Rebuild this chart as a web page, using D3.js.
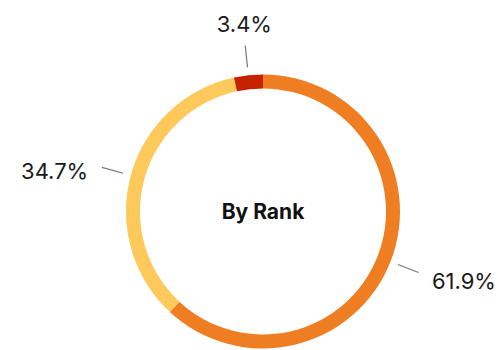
<!DOCTYPE html>
<html>
<head>
<meta charset="utf-8">
<script src="https://cdn.jsdelivr.net/npm/d3@7"></script>
<style>
  html, body { margin: 0; padding: 0; background: #fff; }
  svg { display: block; }
</style>
</head>
<body>
<svg id="chart" width="500" height="350"></svg>
<script>
// Share of items by rank
const categories = ["Rank A", "Rank B", "Rank C"];
const shares = [61.9, 34.7, 3.4];
const colors = ["#EF7D22", "#FEC95B", "#C42200"];
const centerTitle = "By Rank";

const width = 500, height = 350;
const cx = 263, cy = 211.5;
const outerR = 137, innerR = 123;
const lineStart = 145, lineEnd = 167, labelR = 175;

const svg = d3.select("#chart");
const g = svg.append("g").attr("transform", `translate(${cx},${cy})`);

const data = categories.map((c, i) => ({ category: c, value: shares[i], color: colors[i] }));

const pie = d3.pie().value(d => d.value).sort((a, b) => b.value - a.value);
const arcs = pie(data);

const arc = d3.arc().innerRadius(innerR).outerRadius(outerR);

g.selectAll("path.slice")
  .data(arcs)
  .join("path")
  .attr("class", "slice")
  .attr("d", arc)
  .attr("fill", d => d.data.color);

const mid = d => (d.startAngle + d.endAngle) / 2;
const pt = (a, r) => [Math.sin(a) * r, -Math.cos(a) * r];
const isTop = d => Math.abs(Math.sin(mid(d))) < 0.3;

g.selectAll("line.leader")
  .data(arcs)
  .join("line")
  .attr("class", "leader")
  .attr("x1", d => pt(mid(d), lineStart)[0])
  .attr("y1", d => pt(mid(d), lineStart)[1])
  .attr("x2", d => pt(mid(d), lineEnd)[0])
  .attr("y2", d => pt(mid(d), lineEnd)[1])
  .attr("stroke", "#777")
  .attr("stroke-width", 1.2);

const fmt = v => d3.format(".1f")(v) + "%";

g.selectAll("text.value")
  .data(arcs)
  .join("text")
  .attr("class", "value")
  .attr("x", d => pt(mid(d), labelR)[0])
  .attr("y", d => pt(mid(d), labelR)[1])
  .attr("dx", d => isTop(d) ? 0 : (Math.sin(mid(d)) > 0 ? 6 : -6))
  .attr("dy", d => isTop(d) ? "-0.25em" : "0.62em")
  .attr("text-anchor", d => isTop(d) ? "middle" : (Math.sin(mid(d)) > 0 ? "start" : "end"))
  .attr("font-family", "Inter, 'Open Sans', sans-serif")
  .attr("font-size", 22)
  .attr("fill", "#1a1a1a")
  .text(d => fmt(d.data.value));

g.append("text")
  .attr("x", 0)
  .attr("y", 0)
  .attr("dy", "0.35em")
  .attr("text-anchor", "middle")
  .attr("font-family", "Inter, Roboto, sans-serif")
  .attr("font-weight", "bold")
  .attr("font-size", 21)
  .attr("fill", "#111")
  .text(centerTitle);
</script>
</body>
</html>
